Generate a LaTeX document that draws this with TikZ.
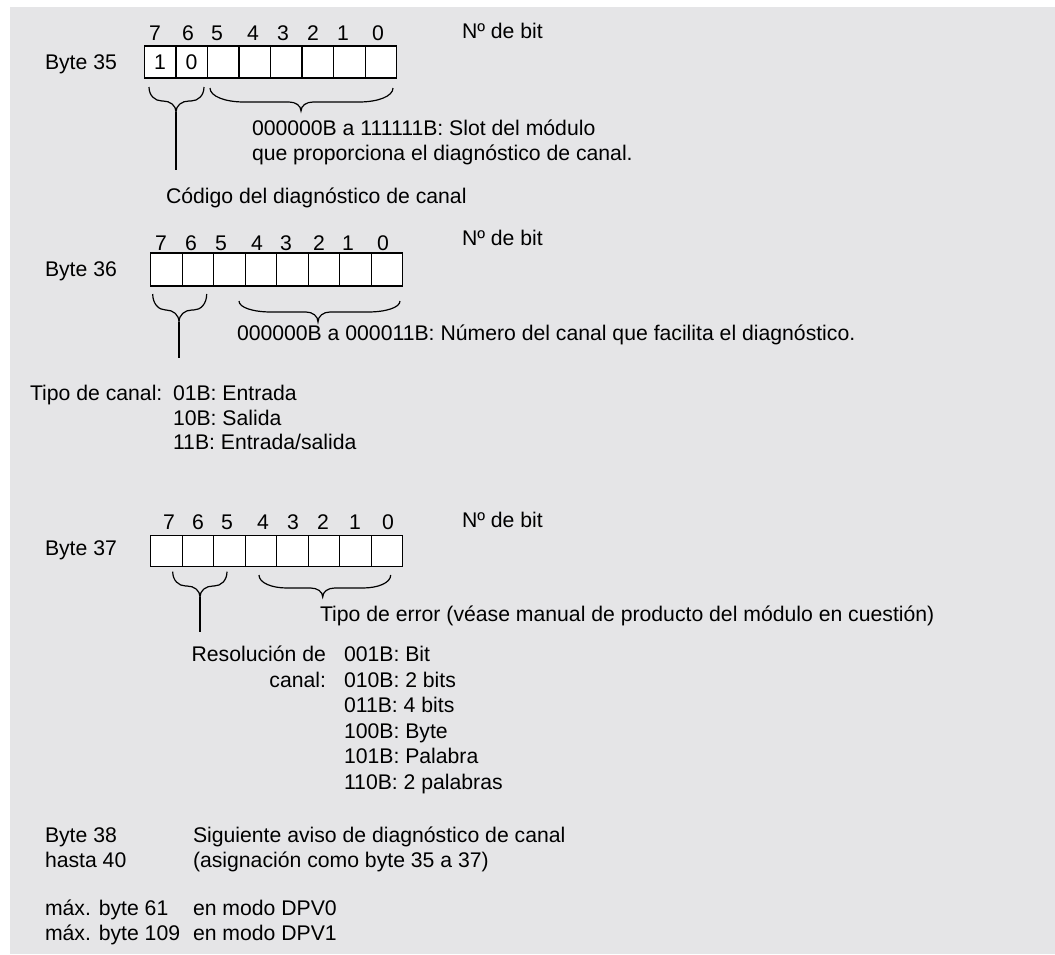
\documentclass[tikz,border=0pt]{standalone}
\usepackage{fontspec}
\setmainfont{Liberation Sans}
\definecolor{bg}{RGB}{229,229,231}
\newcommand{\mybrace}[8]{% xa xb yt xc yb ym re rc
  \draw[bracel] (#1,#3) .. controls (#1,{#3+0.6*(#6-#3)}) and ({#1+0.45*#7},#6) .. ({#1+#7},#6)
    -- ({#4-#8},#6) .. controls ({#4-0.45*#8},#6) and (#4,{#6+0.4*(#5-#6)}) .. (#4,#5)
    .. controls (#4,{#6+0.4*(#5-#6)}) and ({#4+0.45*#8},#6) .. ({#4+#8},#6)
    -- ({#2-#7},#6) .. controls ({#2-0.45*#7},#6) and (#2,{#3+0.6*(#6-#3)}) .. (#2,#3);
}
\begin{document}
\begin{tikzpicture}[x=1pt,y=-1pt,
  every node/.style={font=\fontsize{21.2}{25}\selectfont, inner sep=0pt, outer sep=0pt},
  txt/.style={anchor=base west},
  txtr/.style={anchor=base east},
  num/.style={anchor=base},
  cell/.style={draw, fill=white, minimum width=31.55pt, minimum height=32pt, line width=1.3pt},
  bracel/.style={line width=1.2pt},
  lead/.style={line width=1.2pt}]
\useasboundingbox (0,0) rectangle (1055,954);
\fill[bg] (10,7) rectangle (1055,954);

% ---------- Byte 35 ----------
\node[txt] (lb35) at (45,69) {Byte 35};
\foreach \i/\x in {7/155,6/188,5/217,4/253,3/283,2/313,1/343,0/378}
  \node[num] (n35-\i) at (\x,40.4) {\i};
\node[txt] (nb35) at (462,38) {Nº de bit};
\foreach \k/\t in {0/1,1/0,2/,3/,4/,5/,6/,7/}
  \node[cell] (c35-\k) at ({144.3+15.775+\k*31.55},62) {\t};
\mybrace{149}{204}{87}{176}{112}{101}{13}{13}
\mybrace{210}{393}{88}{301}{111}{102}{34}{12}
\coordinate (t35) at (176,112);
\coordinate (e35) at (176,170);
\draw[lead] (t35) -- (e35);
\node[txt] (s35a) at (252,135) {000000B a 111111B: Slot del módulo};
\node[txt] (s35b) at (252,160) {que proporciona el diagnóstico de canal.};
\node[txt] (cod35) at (166,203) {Código del diagnóstico de canal};

% ---------- Byte 36 ----------
\node[txt] (lb36) at (45,276) {Byte 36};
\foreach \i/\x in {7/161,6/191,5/221,4/257,3/286,2/319,1/348,0/383}
  \node[num] (n36-\i) at (\x,250.4) {\i};
\node[txt] (nb36) at (462,245) {Nº de bit};
\foreach \k in {0,...,7}
  \node[cell, minimum width=31.5pt, minimum height=33pt] (c36-\k) at ({150.7+15.75+\k*31.5},269.5) {};
\mybrace{152.7}{206.7}{294}{179}{322}{310}{13}{13}
\mybrace{239}{400}{301}{318}{322}{312}{32}{12}
\coordinate (t36) at (179,322);
\coordinate (e36) at (179,358);
\draw[lead] (t36) -- (e36);
\node[txt] (s36) at (237,340) {000000B a 000011B: Número del canal que facilita el diagnóstico.};
\node[txt] (tc36) at (30,400) {Tipo de canal:};
\node[txt] (tc36a) at (173,400) {01B: Entrada};
\node[txt] (tc36b) at (173,425) {10B: Salida};
\node[txt] (tc36c) at (173,449) {11B: Entrada/salida};

% ---------- Byte 37 ----------
\node[txt] (lb37) at (45,555) {Byte 37};
\foreach \i/\x in {7/169,6/198,5/227,4/263,3/293,2/323,1/355,0/388}
  \node[num] (n37-\i) at (\x,529) {\i};
\node[txt] (nb37) at (462,527) {Nº de bit};
\foreach \k in {0,...,7}
  \node[cell, minimum width=31.5pt, minimum height=31pt] (c37-\k) at ({150.7+15.75+\k*31.5},551.2) {};
\mybrace{172.7}{227}{571.7}{200}{597}{586}{13}{13}
\mybrace{259}{390.7}{575}{322.7}{597}{588}{28}{12}
\coordinate (t37) at (200,597);
\coordinate (e37) at (200,632);
\draw[lead] (t37) -- (e37);
\node[txt] (s37) at (320,621) {Tipo de error (véase manual de producto del módulo en cuestión)};
\node[txtr] (r37a) at (326,661) {Resolución de};
\node[txtr] (r37b) at (326,687) {canal:};
\node[txt] (l1) at (344,661) {001B: Bit};
\node[txt] (l2) at (344,687) {010B: 2 bits};
\node[txt] (l3) at (344,712.5) {011B: 4 bits};
\node[txt] (l4) at (344,738) {100B: Byte};
\node[txt] (l5) at (344,763.5) {101B: Palabra};
\node[txt] (l6) at (344,789) {110B: 2 palabras};

% ---------- Bytes 38 ... ----------
\node[txt] (b38a) at (45,842) {Byte 38};
\node[txt] (b38b) at (45,867) {hasta 40};
\node[txt] (s38a) at (193,842) {Siguiente aviso de diagnóstico de canal};
\node[txt] (s38b) at (193,867) {(asignación como byte 35 a 37)};
\node[txt] (m61) at (45,915) {máx. byte 61};
\node[txt] (m109) at (45,940) {máx. byte 109};
\node[txt] (d0) at (193,915) {en modo DPV0};
\node[txt] (d1) at (193,940) {en modo DPV1};
\end{tikzpicture}
\end{document}
